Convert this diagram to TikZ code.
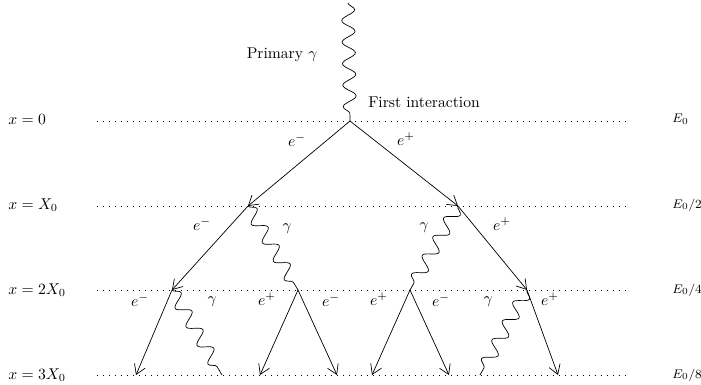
\documentclass[tikz,border=0pt]{standalone}
\usetikzlibrary{arrows.meta,decorations.pathmorphing}
\tikzset{
  >={Straight Barb[length=6pt,width=7.5pt]},
  level/.style={line width=0.6pt, dash pattern=on 0.6pt off 3.24pt},
  lepton/.style={->, line width=0.45pt},
  photon/.style={decorate, decoration={snake, amplitude=4.2pt, segment length=13.8pt}, line width=0.45pt},
  depth/.style={anchor=west, inner sep=0pt},
  energy/.style={anchor=west, inner sep=0pt, font=\footnotesize},
  tag/.style={inner sep=1pt}
}

\begin{document}
\begin{tikzpicture}[x=0.0225cm, y=-0.0225cm]
\useasboundingbox (0,0) rectangle (701,385);
\draw[level] (97,121) -- (628,121);
\draw[level] (97,206) -- (628,206);
\draw[level] (97,290) -- (628,290);
\draw[level] (97,375) -- (628,375);
\node[depth] (d0) at (8,119) {$x=0$};
\node[depth] (d1) at (8,205) {$x=X_0$};
\node[depth] (d2) at (8,290) {$x=2X_0$};
\node[depth] (d3) at (8,375) {$x=3X_0$};
\node[energy] (en0) at (672,119) {$E_0$};
\node[energy] (en1) at (672,205) {$E_0/2$};
\node[energy] (en2) at (672,290) {$E_0/4$};
\node[energy] (en3) at (672,375) {$E_0/8$};
\coordinate (src) at (348,3);
\coordinate (v0) at (350,121);
\coordinate (v1a) at (248,206);
\coordinate (v1b) at (458,206);
\coordinate (v2a) at (172,290);
\coordinate (v2b) at (298,290);
\coordinate (v2c) at (410,290);
\coordinate (v2d) at (527,290);
\coordinate (f1) at (136,375);
\coordinate (f2) at (222,375);
\coordinate (f3) at (260,375);
\coordinate (f4) at (337,375);
\coordinate (f5) at (372,375);
\coordinate (f6) at (449,375);
\coordinate (f7) at (480,375);
\coordinate (f8) at (558,375);
\node (primary) at (282,55) {Primary $\gamma$};
\node (first) at (424,102) {First interaction};
\draw[photon] (src) -- (v0);
\draw[lepton] (v0) -- (v1a);
\draw[lepton] (v0) -- (v1b);
\draw[lepton] (v1a) -- (v2a);
\draw[photon] (v1a) -- (v2b);
\draw[photon] (v1b) -- (v2c);
\draw[lepton] (v1b) -- (v2d);
\draw[lepton] (v2a) -- (f1);
\draw[photon] (v2a) -- (f2);
\draw[lepton] (v2b) -- (f3);
\draw[lepton] (v2b) -- (f4);
\draw[lepton] (v2c) -- (f5);
\draw[lepton] (v2c) -- (f6);
\draw[photon] (v2d) -- (f7);
\draw[lepton] (v2d) -- (f8);
\node[tag] (l1) at (297,140) {$e^-$};
\node[tag] (l2) at (406,139) {$e^+$};
\node[tag] (l3) at (202,224) {$e^-$};
\node[tag] (l4) at (287,229) {$\gamma$};
\node[tag] (l5) at (424,228) {$\gamma$};
\node[tag] (l6) at (502,224) {$e^+$};
\node[tag] (l7) at (140,300) {$e^-$};
\node[tag] (l8) at (212,302) {$\gamma$};
\node[tag] (l9) at (267,299) {$e^+$};
\node[tag] (l10) at (331,300) {$e^-$};
\node[tag] (l11) at (379,299) {$e^+$};
\node[tag] (l12) at (441,300) {$e^-$};
\node[tag] (l13) at (488,302) {$\gamma$};
\node[tag] (l14) at (550,299) {$e^+$};
\end{tikzpicture}
\end{document}
